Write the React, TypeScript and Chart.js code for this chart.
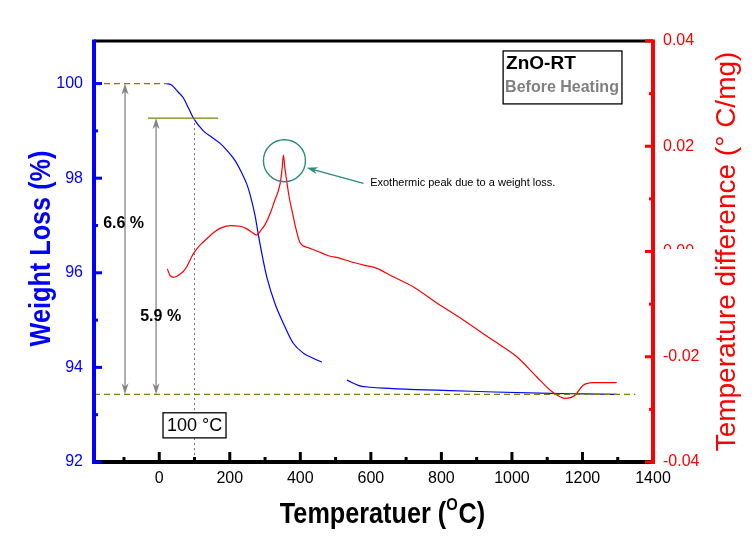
import React, { useEffect, useRef } from "react";
import { Chart, registerables } from "chart.js";

Chart.register(...registerables);

// ---------------- data ----------------
const tgTemp = [22, 35, 50, 68, 85, 97, 125, 150, 172, 195, 215, 232, 248, 257, 272, 281, 295, 305, 328, 352, 380, 409, 435, 461, 495, 532, 569, 600, 635, 725, 825, 950, 1108, 1200, 1297];
const tgWeight = [100.0, 99.97, 99.85, 99.7, 99.45, 99.27, 99.0, 98.86, 98.74, 98.56, 98.37, 98.14, 97.88, 97.67, 97.2, 96.8, 96.25, 95.91, 95.35, 94.93, 94.51, 94.3, 94.2, 94.11, null, 93.73, 93.61, 93.58, 93.56, 93.53, 93.51, 93.48, 93.45, 93.44, 93.43];

const dtaTemp = [23, 30, 40, 50, 59, 68, 78, 92, 97, 110, 125, 144, 158, 172, 201, 229, 248, 262, 276, 288, 300, 315, 328, 336, 343, 348, 352, 356, 361, 368, 376, 388, 399, 423, 447, 480, 513, 541, 580, 617, 660, 720, 787, 862, 938, 1014, 1070, 1113, 1150, 1179, 1202, 1231, 1260, 1297];
const dtaValue = [-0.0033, -0.0045, -0.0049, -0.0047, -0.0043, -0.0038, -0.0029, -0.001, -0.0004, 0.0008, 0.0018, 0.003, 0.0038, 0.0044, 0.0049, 0.0048, 0.0043, 0.0037, 0.0031, 0.004, 0.0051, 0.0073, 0.0098, 0.0112, 0.013, 0.0155, 0.0183, 0.016, 0.0136, 0.0105, 0.0079, 0.0042, 0.0017, 0.0007, 0.0001, -0.0008, -0.0013, -0.0019, -0.0026, -0.0032, -0.0047, -0.0067, -0.0098, -0.013, -0.0165, -0.02, -0.0238, -0.0266, -0.0279, -0.0273, -0.0254, -0.0249, -0.0249, -0.0249];

const xTickValues = [0, 200, 400, 600, 800, 1000, 1200, 1400];
const xMinorTicks = [-100, 100, 300, 500, 700, 900, 1100, 1300];
const leftTickValues = [92, 94, 96, 98, 100];
const leftMinorTicks = [93, 95, 97, 99];
const rightTickValues = [-0.04, -0.02, 0, 0.02, 0.04];
const rightTickLabels = ["-0.04", "-0.02", "0.00", "0.02", "0.04"];
const rightMinorTicks = [-0.03, -0.01, 0.01, 0.03];

// reference levels (weight %)
const weightStart = 100.0;
const weightEnd = 93.43;
const weightAt100 = 99.27;

const FONT = "'Liberation Sans', Arial, Helvetica, sans-serif";

function seg(ctx: CanvasRenderingContext2D, x1: number, y1: number, x2: number, y2: number) {
  ctx.beginPath();
  ctx.moveTo(x1, y1);
  ctx.lineTo(x2, y2);
  ctx.stroke();
}

function head(ctx: CanvasRenderingContext2D, x: number, y: number, dx: number, dy: number, len: number, half: number) {
  const n = Math.hypot(dx, dy);
  const ux = dx / n, uy = dy / n;
  const px = -uy, py = ux;
  const bx = x - ux * len, by = y - uy * len;
  ctx.beginPath();
  ctx.moveTo(x, y);
  ctx.lineTo(bx + px * half, by + py * half);
  ctx.lineTo(x - ux * len * 0.72, y - uy * len * 0.72);
  ctx.lineTo(bx - px * half, by - py * half);
  ctx.closePath();
  ctx.fill();
}

const background = {
  id: "bg",
  beforeDraw(chart: any) {
    const { ctx, width, height } = chart;
    ctx.save();
    ctx.fillStyle = "#ffffff";
    ctx.fillRect(0, 0, width, height);
    ctx.restore();
  },
};

const overlay = {
  id: "overlay",
  afterDraw(chart: any) {
    const { ctx, scales } = chart;
    const xs = scales.x, ys = scales.y, y2s = scales.y2;
    const X = (v: number) => xs.getPixelForValue(v);
    const Y = (v: number) => ys.getPixelForValue(v);
    const Y2 = (v: number) => y2s.getPixelForValue(v);
    const L = xs.left, R = xs.right, T = ys.top, B = ys.bottom;

    ctx.save();

    // olive reference lines
    ctx.strokeStyle = "#808000";
    ctx.lineWidth = 1.2;
    ctx.setLineDash([6, 4]);
    seg(ctx, L, Y(weightStart), X(25), Y(weightStart));
    seg(ctx, L, Y(weightEnd), X(1350), Y(weightEnd));
    ctx.setLineDash([]);
    seg(ctx, X(-32), Y(weightAt100), X(167), Y(weightAt100));

    // dotted line at 100 °C
    ctx.strokeStyle = "#707070";
    ctx.lineWidth = 1;
    ctx.setLineDash([2, 3]);
    seg(ctx, X(100), Y(weightAt100), X(100), B);
    ctx.setLineDash([]);

    // grey double arrows
    ctx.strokeStyle = "#858585";
    ctx.fillStyle = "#858585";
    ctx.lineWidth = 1.3;
    const arrows = [
      { t: -97, a: weightStart, b: weightEnd },
      { t: -9, a: weightAt100, b: weightEnd },
    ];
    arrows.forEach((ar) => {
      const x = X(ar.t);
      seg(ctx, x, Y(ar.a) + 4, x, Y(ar.b) - 4);
      head(ctx, x, Y(ar.a), 0, -1, 11, 3.5);
      head(ctx, x, Y(ar.b), 0, 1, 11, 3.5);
    });

    // percentage labels
    ctx.fillStyle = "#000";
    ctx.font = `bold 16px ${FONT}`;
    ctx.textAlign = "left";
    ctx.textBaseline = "middle";
    ctx.fillText("6.6 %", X(-159), Y(97.04));
    ctx.fillText("5.9 %", X(-54), Y(95.08));

    // 100 °C box
    const bx1 = X(100) - 31.5, bx2 = X(100) + 31.5;
    const by1 = Y(93.04), by2 = Y(92.51);
    ctx.fillStyle = "#fff";
    ctx.fillRect(bx1, by1, bx2 - bx1, by2 - by1);
    ctx.strokeStyle = "#000";
    ctx.lineWidth = 1.3;
    ctx.strokeRect(bx1, by1, bx2 - bx1, by2 - by1);
    ctx.fillStyle = "#000";
    ctx.font = `18px ${FONT}`;
    ctx.textAlign = "center";
    ctx.textBaseline = "middle";
    ctx.fillText("100 °C", X(100), (by1 + by2) / 2 + 1);

    // exothermic circle + arrow + text
    const teal = "#2a8a82";
    ctx.strokeStyle = teal;
    ctx.fillStyle = teal;
    ctx.lineWidth = 1.4;
    ctx.beginPath();
    ctx.arc(X(355), Y(98.37), 21, 0, Math.PI * 2);
    ctx.stroke();
    const tx = X(579), ty = Y(97.89), hx = X(418), hy = Y(98.22);
    seg(ctx, tx, ty, hx + (tx - hx) * 0.1, hy + (ty - hy) * 0.1);
    head(ctx, hx, hy, hx - tx, hy - ty, 11, 3.5);
    ctx.fillStyle = "#000";
    ctx.font = `11px ${FONT}`;
    ctx.textAlign = "left";
    ctx.textBaseline = "middle";
    ctx.fillText("Exothermic peak due to a weight loss.", X(598), Y(97.89));

    // sample label box
    const lx1 = X(975), lx2 = X(1312), ly1 = Y(100.69), ly2 = Y(99.57);
    ctx.fillStyle = "#fff";
    ctx.fillRect(lx1, ly1, lx2 - lx1, ly2 - ly1);
    ctx.strokeStyle = "#000";
    ctx.lineWidth = 1.3;
    ctx.strokeRect(lx1, ly1, lx2 - lx1, ly2 - ly1);
    ctx.textBaseline = "alphabetic";
    ctx.textAlign = "left";
    ctx.fillStyle = "#000";
    ctx.font = `bold 19px ${FONT}`;
    ctx.fillText("ZnO-RT", lx1 + 3, ly1 + 18);
    ctx.fillStyle = "#808080";
    ctx.font = `bold 16px ${FONT}`;
    ctx.fillText("Before Heating", lx1 + 2, ly1 + 41.5);

    // obscured 0.00 label on right axis
    ctx.fillStyle = "#fff";
    ctx.fillRect(R + 6, Y2(0) - 2.5, 45, 16);

    // frame: top & bottom black
    ctx.strokeStyle = "#000";
    ctx.lineWidth = 3;
    seg(ctx, L, T, R, T);
    ctx.lineWidth = 4;
    seg(ctx, L, B, R, B);
    // bottom ticks
    ctx.lineWidth = 3;
    xTickValues.forEach((v) => { if (v < 1400) seg(ctx, X(v), B, X(v), B - 10); });
    xMinorTicks.forEach((v) => seg(ctx, X(v), B, X(v), B - 5));

    // left blue axis
    ctx.strokeStyle = "#0000ff";
    ctx.lineWidth = 4;
    seg(ctx, L, T - 1.5, L, B + 2);
    ctx.lineWidth = 3;
    leftTickValues.forEach((v) => seg(ctx, L, Y(v), L + 8, Y(v)));
    leftMinorTicks.forEach((v) => seg(ctx, L, Y(v), L + 4, Y(v)));

    // right red axis
    ctx.strokeStyle = "#ff0000";
    ctx.lineWidth = 4;
    seg(ctx, R, T - 1.5, R, B + 2);
    ctx.lineWidth = 3;
    rightTickValues.forEach((v) => seg(ctx, R, Y2(v), R - 8, Y2(v)));
    rightMinorTicks.forEach((v) => seg(ctx, R, Y2(v), R - 4, Y2(v)));

    // axis titles
    // left
    ctx.save();
    ctx.translate(50, (T + B) / 2 - 3);
    ctx.rotate(-Math.PI / 2);
    ctx.scale(0.87, 1);
    ctx.font = `bold 29px ${FONT}`;
    ctx.fillStyle = "#0000ff";
    ctx.textAlign = "center";
    ctx.textBaseline = "alphabetic";
    ctx.fillText("Weight Loss (%)", 0, 0);
    ctx.restore();

    // right
    ctx.save();
    ctx.translate(735, (T + B) / 2);
    ctx.rotate(-Math.PI / 2);
    ctx.font = `28px ${FONT}`;
    ctx.fillStyle = "#ff0000";
    ctx.textAlign = "center";
    ctx.textBaseline = "alphabetic";
    ctx.fillText("Temperature difference (° C/mg)", 0, 0);
    ctx.restore();

    // bottom with superscript O
    ctx.save();
    ctx.translate((L + R) / 2 + 9, 523);
    ctx.scale(0.87, 1);
    ctx.fillStyle = "#000";
    ctx.textAlign = "left";
    ctx.textBaseline = "alphabetic";
    const p1 = "Temperatuer (", p2 = "O", p3 = "C)";
    ctx.font = `bold 29px ${FONT}`;
    const w1 = ctx.measureText(p1).width;
    const w3 = ctx.measureText(p3).width;
    ctx.font = `bold 17px ${FONT}`;
    const w2 = ctx.measureText(p2).width + 1;
    let x0 = -(w1 + w2 + w3) / 2;
    ctx.font = `bold 29px ${FONT}`;
    ctx.fillText(p1, x0, 0);
    x0 += w1;
    ctx.font = `bold 17px ${FONT}`;
    ctx.fillText(p2, x0, -13);
    x0 += w2;
    ctx.font = `bold 29px ${FONT}`;
    ctx.fillText(p3, x0, 0);
    ctx.restore();

    ctx.restore();
  },
};

export default function App() {
  const ref = useRef<HTMLCanvasElement>(null);

  useEffect(() => {
    const canvas = ref.current;
    if (!canvas) return;
    const chart = new Chart(canvas, {
      type: "scatter",
      data: {
        datasets: [
          {
            label: "DTA",
            data: dtaTemp.map((t, i) => ({ x: t, y: dtaValue[i] })),
            yAxisID: "y2",
            showLine: true,
            borderColor: "#ff0000",
            borderWidth: 1.2,
            pointRadius: 0,
            cubicInterpolationMode: "monotone",
          },
          {
            label: "TG",
            data: tgTemp.map((t, i) => ({ x: t, y: tgWeight[i] })),
            yAxisID: "y",
            showLine: true,
            spanGaps: false,
            borderColor: "#0000ff",
            borderWidth: 1.2,
            pointRadius: 0,
            cubicInterpolationMode: "monotone",
          },
        ],
      } as any,
      options: {
        responsive: false,
        animation: false,
        events: [],
        layout: { padding: { top: 41, left: 0, right: 0, bottom: 0 } },
        plugins: { legend: { display: false }, tooltip: { enabled: false } },
        scales: {
          x: {
            type: "linear",
            position: "bottom",
            min: -185,
            max: 1400,
            grid: { display: false, drawTicks: false },
            border: { display: false },
            ticks: {
              autoSkip: false,
              maxRotation: 0,
              padding: 7,
              color: "#000",
              font: { family: FONT, size: 16 },
              callback: (v: any) => String(v),
            },
            afterBuildTicks: (s: any) => { s.ticks = xTickValues.map((v) => ({ value: v })); },
            afterFit: (s: any) => { s.height = 81; },
          },
          y: {
            type: "linear",
            position: "left",
            min: 92,
            max: 100.9,
            grid: { display: false, drawTicks: false },
            border: { display: false },
            ticks: {
              autoSkip: false,
              padding: 11,
              color: "#0000ff",
              font: { family: FONT, size: 16 },
              callback: (v: any) => String(v),
            },
            afterBuildTicks: (s: any) => { s.ticks = leftTickValues.map((v) => ({ value: v })); },
            afterFit: (s: any) => { s.width = 94; },
          },
          y2: {
            type: "linear",
            position: "right",
            min: -0.04,
            max: 0.04,
            grid: { display: false, drawTicks: false },
            border: { display: false },
            ticks: {
              autoSkip: false,
              padding: 10,
              color: "#ff0000",
              font: { family: FONT, size: 16 },
              callback: (_v: any, i: number) => rightTickLabels[i],
            },
            afterBuildTicks: (s: any) => { s.ticks = rightTickValues.map((v) => ({ value: v })); },
            afterFit: (s: any) => { s.width = 102; },
          },
        },
      } as any,
      plugins: [background, overlay],
    });
    return () => chart.destroy();
  }, []);

  return (
    <div style={{ position: "fixed", left: 0, top: 0, width: 755, height: 543, background: "#fff" }}>
      <canvas ref={ref} width={755} height={543} style={{ width: 755, height: 543, display: "block" }} />
    </div>
  );
}
